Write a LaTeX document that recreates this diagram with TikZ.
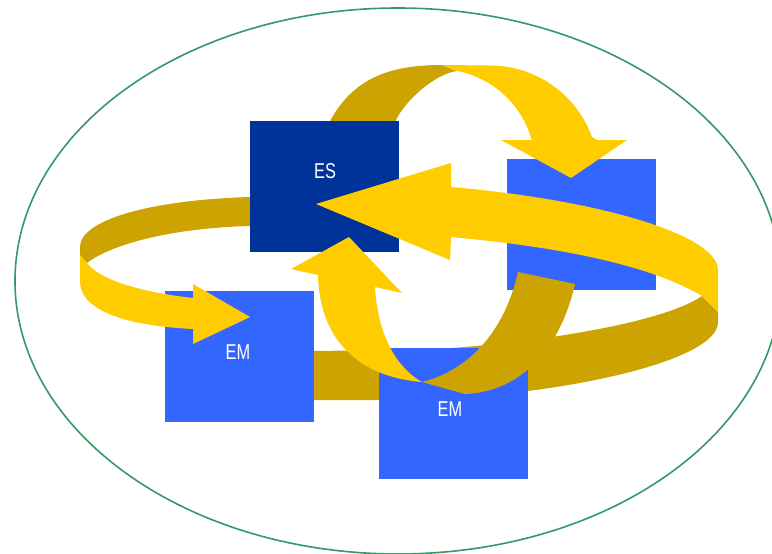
\documentclass[tikz,border=0pt]{standalone}
\usepackage{fontspec}
\setmainfont{Liberation Sans}
\definecolor{gold}{HTML}{FFCC00}
\definecolor{darkgold}{HTML}{CCA300}
\definecolor{esblue}{HTML}{003399}
\definecolor{emblue}{HTML}{3366FF}
\definecolor{ellgreen}{HTML}{339966}
\tikzset{
  box/.style={rectangle, inner sep=0pt, minimum width=149pt, minimum height=131pt, draw=none},
  lbl/.style={anchor=base, inner sep=0pt, text=white, font=\fontsize{21.5}{22}\selectfont},
  ribbonback/.style={fill=darkgold},
  ribbonfront/.style={fill=gold},
}
\newcommand{\narrow}[1]{\scalebox{0.76}[1]{#1}}
\begin{document}
\begin{tikzpicture}[x=1pt,y=-1pt]
\useasboundingbox (0,0) rectangle (772,554);
% outer ellipse
\draw[ellgreen, line width=1.6pt] (398,281) ellipse [x radius=383pt, y radius=273pt];

% top loop, back part (behind ES)
\path[ribbonback] (326,132) -- (330,121) .. controls (355,75) and (395,65) .. (442,65)
  -- (457,71) .. controls (435,74) and (405,100) .. (395,122) -- (395,132) -- cycle;

% ring A, back part (behind ES)
\path[ribbonback] (262,196) -- (250,197) .. controls (150,200) and (80,220) .. (80,247)
  -- (80,255) -- (87,263) .. controls (110,245) and (170,228) .. (250,226) -- (262,226) -- cycle;

% ring B, back part (bottom band, behind EM boxes)
\path[ribbonback] (305,351) -- (420,350) .. controls (520,345) and (660,325) .. (702,296)
  -- (718,312) -- (718,322) .. controls (718,362) and (560,395) .. (420,400) -- (305,400) -- cycle;

% boxes
\node[box, fill=esblue] (es) at (324.5,186.5) {};
\node[box, fill=emblue] (tr) at (581.5,224.5) {};
\node[box, fill=emblue] (eml) at (239.5,356.5) {};
\node[box, fill=emblue] (emb) at (453.5,413.5) {};

% ring A, front part with arrow head to EM (left)
\path[ribbonfront] (80,255) -- (80,283) .. controls (82,312) and (130,326) .. (193,329)
  -- (193,344) -- (250,317) -- (193,284) -- (193,298)
  .. controls (140,292) and (100,280) .. (87,263) -- cycle;

% ring B, front part with arrow head to ES
\path[ribbonfront] (718,312) -- (718,270) .. controls (718,235) and (600,200) .. (451,187)
  -- (451,163) -- (316,204) -- (450,260) -- (451,237)
  .. controls (560,247) and (650,265) .. (702,296) -- cycle;

% top loop, front part with arrow head to right box
\path[ribbonfront] (442,65) -- (490,65.5) .. controls (535.6,65.5) and (576.4,94) .. (592,137)
  -- (597,140) -- (627,140) -- (571,178) -- (501,140) -- (532,140) -- (530.8,137.2)
  .. controls (520.4,103.1) and (491.7,77.6) .. (457,71) -- cycle;

% lower loop, back arm
\path[ribbonback] (518,272) -- (575,284) .. controls (560,350) and (520,392) .. (465,394)
  -- (422,382) .. controls (470,370) and (505,330) .. (518,272) -- cycle;

% lower loop, front arm with arrow head to ES
\path[ribbonfront] (422,382) .. controls (370,378) and (320,350) .. (318,275)
  -- (291,269) -- (349,237) -- (402,293) -- (375,287)
  .. controls (378,340) and (400,370) .. (422,382) -- cycle;

% labels
\node[lbl] (esl) at (325,178.3) {\narrow{ES}};
\node[lbl] (emll) at (238,359) {\narrow{EM}};
\node[lbl] (embl) at (450,416) {\narrow{EM}};
\end{tikzpicture}
\end{document}
